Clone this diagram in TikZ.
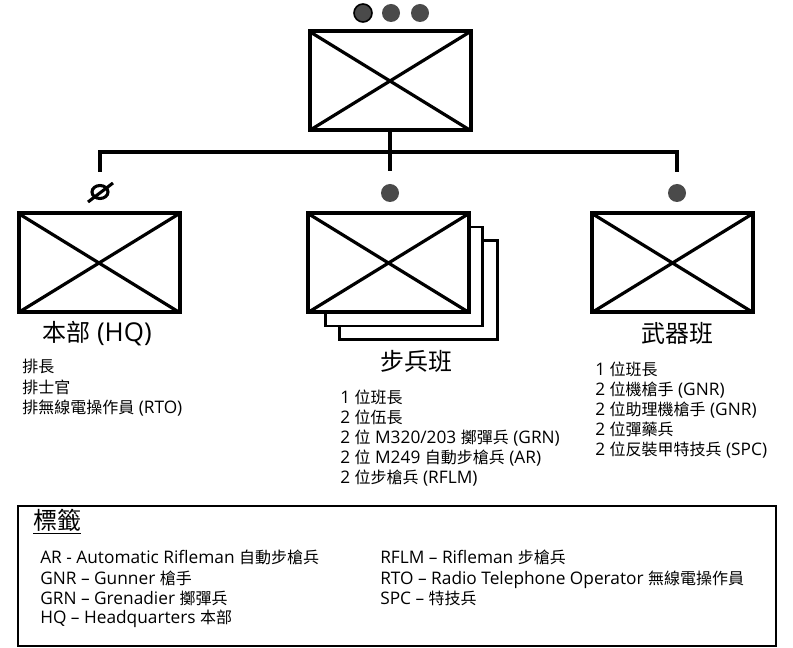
\documentclass[tikz,border=0pt]{standalone}
\usepackage{fontspec}
\setmainfont{Open Sans}[Scale=1.08]
\newfontfamily\cjk{Noto Sans CJK TC}
\newcommand{\zh}[1]{{\cjk #1}}
\usetikzlibrary{calc}
\definecolor{dotgray}{HTML}{4A4A4A}
\tikzset{
  unitbox/.style={draw=black, fill=white, line width=3pt, minimum width=120.75pt, minimum height=74.25pt, inner sep=0pt, outer sep=0pt},
  backbox/.style={draw=black, fill=white, line width=2.2pt, minimum width=118pt, minimum height=74.25pt, inner sep=0pt, outer sep=0pt},
  crossline/.style={line width=2.4pt},
  conn/.style={line width=3.6pt, line join=miter},
  dotmark/.style={circle, fill=dotgray, minimum size=13.5pt, inner sep=0pt},
  txt/.style={anchor=west, inner sep=0pt, text height=0.88em, text depth=0.12em, font=\fontsize{12}{14}\selectfont},
  ttl/.style={inner sep=0pt, text height=0.88em, text depth=0.12em, font=\fontsize{18}{20}\selectfont},
}
\begin{document}
\begin{tikzpicture}[x=0.75pt,y=-0.75pt]
\useasboundingbox (0,0) rectangle (793,648);
% top unit
\node[dotmark, draw=black, line width=1.2pt] (d1) at (363,13) {};
\node[dotmark] (d2) at (391,13) {};
\node[dotmark] (d3) at (420,13) {};
\node[unitbox] (top) at (390,81) {};
\draw[crossline] (top.north west) -- (top.south east);
\draw[crossline] (top.south west) -- (top.north east);
% connectors
\coordinate (jL) at (100,152);
\coordinate (jM) at (390,152);
\coordinate (jR) at (677,152);
\coordinate (dL) at (100,172);
\coordinate (dM) at (390,171);
\coordinate (dR) at (677,172);
\draw[conn] (dL) -- (jL) -- (jR) -- (dR);
\draw[conn] (top.south) -- (jM) -- (dM);
% HQ
\node[unitbox] (hq) at (99,263) {};
\draw[crossline] (hq.north west) -- (hq.south east);
\draw[crossline] (hq.south west) -- (hq.north east);
\draw[line width=2.3pt] (100,192) ellipse [x radius=8, y radius=6.5];
\draw[line width=2.3pt] (88,202) -- (113,183);
\node[ttl] (hqt) at (97,336) {\zh{本部} (HQ)};
\node[txt] (hq1) at (22,367) {\zh{排長}};
\node[txt] (hq2) at (22,388) {\zh{排士官}};
\node[txt] (hq3) at (22,408) {\zh{排無線電操作員} (RTO)};
% squads
\node[dotmark] (dS) at (390,193) {};
\node[backbox] (sq3) at (418.5,290) {};
\node[backbox] (sq2) at (404,276.5) {};
\node[unitbox] (sq) at (388.5,263) {};
\draw[crossline] (sq.north west) -- (sq.south east);
\draw[crossline] (sq.south west) -- (sq.north east);
\node[ttl] (sqt) at (416,365) {\zh{步兵班}};
\node[txt] (sq1) at (340,398) {1 \zh{位班長}};
\node[txt] (sqa) at (340,418) {2 \zh{位伍長}};
\node[txt] (sqb) at (340,438) {2 \zh{位} M320/203 \zh{擲彈兵} (GRN)};
\node[txt] (sqc) at (340,458) {2 \zh{位} M249 \zh{自動步槍兵} (AR)};
\node[txt] (sqd) at (340,478) {2 \zh{位步槍兵} (RFLM)};
% weapons
\node[dotmark] (dW) at (677,193) {};
\node[unitbox] (wp) at (672.5,263) {};
\draw[crossline] (wp.north west) -- (wp.south east);
\draw[crossline] (wp.south west) -- (wp.north east);
\node[ttl] (wpt) at (677,337) {\zh{武器班}};
\node[txt] (wp1) at (595,370) {1 \zh{位班長}};
\node[txt] (wp2) at (595,390) {2 \zh{位機槍手} (GNR)};
\node[txt] (wp3) at (595,410) {2 \zh{位助理機槍手} (GNR)};
\node[txt] (wp4) at (595,430) {2 \zh{位彈藥兵}};
\node[txt] (wp5) at (595,450) {2 \zh{位反裝甲特技兵} (SPC)};
% legend
\node[draw=black, line width=1.5pt, minimum width=568.5pt, minimum height=104.25pt, inner sep=0pt] (leg) at (397,576) {};
\node[ttl, anchor=west] (legt) at (33,524) {\underline{\zh{標籤}}};
\node[txt] (l1) at (40,558) {AR - Automatic Rifleman \zh{自動步槍兵}};
\node[txt] (l2) at (40,579) {GNR – Gunner \zh{槍手}};
\node[txt] (l3) at (40,599) {GRN – Grenadier \zh{擲彈兵}};
\node[txt] (l4) at (40,618) {HQ – Headquarters \zh{本部}};
\node[txt] (l5) at (380,558) {RFLM – Rifleman \zh{步槍兵}};
\node[txt] (l6) at (380,579) {RTO – Radio Telephone Operator \zh{無線電操作員}};
\node[txt] (l7) at (380,599) {SPC – \zh{特技兵}};
\end{tikzpicture}
\end{document}
